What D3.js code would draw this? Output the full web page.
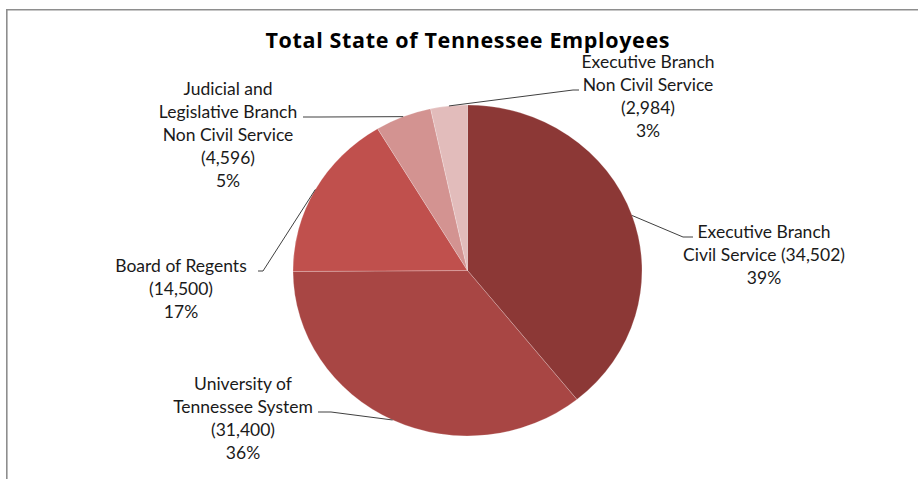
<!DOCTYPE html>
<html>
<head>
<meta charset="utf-8">
<script src="https://cdn.jsdelivr.net/npm/d3@7"></script>
<style>
  html, body { margin: 0; padding: 0; background: #ffffff; }
  svg { display: block; }
  text { font-family: Lato, "Open Sans", "DejaVu Sans", sans-serif; fill: #1a1a1a; }
</style>
</head>
<body>
<svg id="chart" width="918" height="479"></svg>
<script>
// ---- data ----
const title = "Total State of Tennessee Employees";
const categories = [
  "Executive Branch Civil Service",
  "University of Tennessee System",
  "Board of Regents",
  "Judicial and Legislative Branch Non Civil Service",
  "Executive Branch Non Civil Service"
];
const values = [34502, 31400, 14500, 4596, 2984];
const percentLabels = ["39%", "36%", "17%", "5%", "3%"];
const colors = ["#8c3836", "#a84644", "#c0504d", "#d39391", "#e2bcbb"];

// ---- layout ----
const W = 918, H = 479;
const cx = 467.5, cy = 270.5, ry = 165.5, rx = 174.5;
// how the category name is broken into lines; where the value in parentheses goes
const nameLines = [
  ["Executive Branch", "Civil Service {v}"],
  ["University of", "Tennessee System", "{v}"],
  ["Board of Regents", "{v}"],
  ["Judicial and", "Legislative Branch", "Non Civil Service", "{v}"],
  ["Executive Branch", "Non Civil Service", "{v}"]
];
// label centre x, first baseline y, leader elbow and end
const labelLayout = [
  { x: 764, y: 238, elbow: [683, 237], end: [693, 237] },
  { x: 243, y: 390, elbow: [331, 412], end: [318, 412] },
  { x: 181, y: 272, elbow: [263, 271], end: [258, 271] },
  { x: 228, y: 95,  elbow: [320, 117], end: [303, 117] },
  { x: 648, y: 68,  elbow: [573, 90],  end: [579, 90] }
];
const lineH = 23;

const svg = d3.select("#chart");
const fmt = d3.format(",");

// frame
svg.append("path")
  .attr("d", `M6.8,479 L6.8,9.8 L918,9.8`)
  .attr("fill", "none")
  .attr("stroke", "#8e8e8e")
  .attr("stroke-width", 1.6);

// title
svg.append("text")
  .attr("x", 467.5).attr("y", 48)
  .attr("text-anchor", "middle")
  .attr("textLength", 404)
  .attr("lengthAdjust", "spacing")
  .style("font-family", "'Open Sans', Lato, sans-serif")
  .style("font-size", "21.5px")
  .style("font-weight", "bold")
  .style("fill", "#000")
  .text(title);

// pie
const pie = d3.pie().sort(null).value(d => d)(values);
const arc = d3.arc().innerRadius(0).outerRadius(ry);
const g = svg.append("g")
  .attr("transform", `translate(${cx},${cy}) scale(${rx / ry},1)`);
g.selectAll("path")
  .data(pie)
  .join("path")
  .attr("d", arc)
  .attr("fill", (d, i) => colors[i])
  .attr("stroke", "rgba(255,255,255,0.35)")
  .attr("stroke-width", 0.6);

// leader lines
pie.forEach((d, i) => {
  const a = (d.startAngle + d.endAngle) / 2;
  const sx = cx + rx * Math.sin(a);
  const sy = cy - ry * Math.cos(a);
  const L = labelLayout[i];
  svg.append("path")
    .attr("d", `M${sx},${sy} L${L.elbow[0]},${L.elbow[1]} L${L.end[0]},${L.end[1]}`)
    .attr("fill", "none")
    .attr("stroke", "#404040")
    .attr("stroke-width", 1);
});

// labels
pie.forEach((d, i) => {
  const L = labelLayout[i];
  const lines = nameLines[i].map(s => s.replace("{v}", "(" + fmt(values[i]) + ")"))
    .concat([percentLabels[i]]);
  const t = svg.append("text")
    .attr("text-anchor", "middle")
    .style("font-size", "17.5px");
  lines.forEach((s, j) => {
    t.append("tspan")
      .attr("x", L.x)
      .attr("y", L.y + j * lineH)
      .text(s);
  });
});
</script>
</body>
</html>
